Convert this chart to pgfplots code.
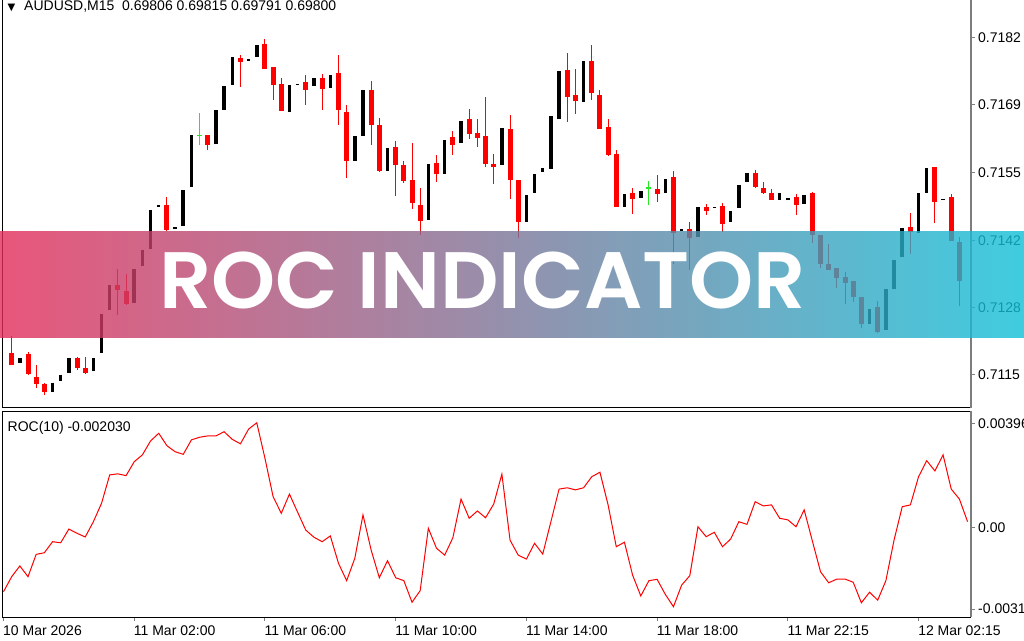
\documentclass[border=0pt]{standalone}
\usepackage{fontspec}
\setmainfont{Liberation Sans}
\IfFontExistsTF{Poppins SemiBold}{\newfontfamily\bannerfont{Poppins SemiBold}\def\bannerweight{}}{%
  \IfFontExistsTF{Poppins Medium}{\newfontfamily\bannerfont{Poppins Medium}\def\bannerweight{}}{%
    \newfontfamily\bannerfont{Poppins}\def\bannerweight{\bfseries}}}
\newfontfamily\symfont{DejaVu Sans}
\usepackage{pgfplots}
\pgfplotsset{compat=1.18}
\usepackage{pgfplotstable}
\definecolor{mtred}{RGB}{255,0,0}
\definecolor{mtgreen}{RGB}{40,230,40}
\definecolor{axgrey}{RGB}{125,125,125}
\definecolor{bannerL}{RGB}{228,44,90}
\definecolor{bannerR}{RGB}{16,192,216}
\newcommand\lblfont{\fontsize{14}{16}\selectfont}

\pgfplotstableread{
n o h l c
1 0.71191 0.71224 0.71166 0.71167
3 0.71187 0.71191 0.71146 0.71147
4 0.71143 0.71167 0.71119 0.71129
5 0.71128 0.71131 0.71107 0.71113
9 0.71181 0.71183 0.71157 0.71161
10 0.71161 0.71183 0.71148 0.71150
14 0.71326 0.71359 0.71266 0.71316
15 0.71316 0.71347 0.71286 0.71289
20 0.71487 0.71503 0.71434 0.71438
25 0.71627 0.71627 0.71596 0.71607
29 0.71781 0.71786 0.71723 0.71772
32 0.71809 0.71819 0.71758 0.71758
33 0.71762 0.71762 0.71696 0.71727
34 0.71729 0.71741 0.71674 0.71674
37 0.71733 0.71748 0.71687 0.71717
39 0.71741 0.71749 0.71676 0.71719
41 0.71749 0.71786 0.71646 0.71675
42 0.71674 0.71686 0.71541 0.71575
45 0.71716 0.71734 0.71607 0.71646
46 0.71647 0.71661 0.71554 0.71554
48 0.71602 0.71616 0.71505 0.71566
49 0.71566 0.71575 0.71531 0.71535
50 0.71535 0.71611 0.71479 0.71489
51 0.71488 0.71520 0.71426 0.71456
53 0.71571 0.71586 0.71533 0.71548
55 0.71621 0.71634 0.71585 0.71605
57 0.71658 0.71679 0.71619 0.71629
58 0.71631 0.71658 0.71603 0.71621
59 0.71625 0.71703 0.71563 0.71568
60 0.71569 0.71589 0.71529 0.71563
62 0.71639 0.71667 0.71499 0.71536
63 0.71535 0.71535 0.71420 0.71452
69 0.71756 0.71789 0.71651 0.71703
70 0.71706 0.71758 0.71668 0.71693
72 0.71776 0.71807 0.71697 0.71711
73 0.71706 0.71717 0.71638 0.71639
74 0.71643 0.71658 0.71584 0.71588
75 0.71588 0.71595 0.71481 0.71482
77 0.71512 0.71520 0.71469 0.71499
80 0.71518 0.71545 0.71491 0.71509
82 0.71543 0.71555 0.71370 0.71430
84 0.71438 0.71451 0.71356 0.71420
86 0.71483 0.71489 0.71466 0.71476
88 0.71486 0.71489 0.71431 0.71449
92 0.71551 0.71556 0.71521 0.71523
93 0.71521 0.71531 0.71508 0.71511
94 0.71511 0.71519 0.71496 0.71497
97 0.71501 0.71509 0.71467 0.71486
99 0.71511 0.71511 0.71409 0.71426
100 0.71426 0.71426 0.71361 0.71369
101 0.71369 0.71409 0.71357 0.71358
102 0.71359 0.71360 0.71321 0.71339
103 0.71341 0.71353 0.71288 0.71329
104 0.71336 0.71336 0.71293 0.71303
105 0.71303 0.71303 0.71241 0.71250
107 0.71283 0.71294 0.71231 0.71233
111 0.71443 0.71469 0.71387 0.71434
114 0.71563 0.71563 0.71451 0.71493
116 0.71503 0.71509 0.71416 0.71416
117 0.71413 0.71423 0.71286 0.71334
}\bear

\pgfplotstableread{
n o c
2 0.71171 0.71181
6 0.71114 0.71131
7 0.71134 0.71147
8 0.71151 0.71181
11 0.71154 0.71181
12 0.71189 0.71267
13 0.71277 0.71326
16 0.71291 0.71359
17 0.71364 0.71396
18 0.71399 0.71477
19 0.71483 0.71486
21 0.71440 0.71443
22 0.71444 0.71516
23 0.71524 0.71627
26 0.71608 0.71676
27 0.71676 0.71725
28 0.71725 0.71781
30 0.71774 0.71779
31 0.71781 0.71805
35 0.71671 0.71725
36 0.71726 0.71729
38 0.71724 0.71741
40 0.71721 0.71747
43 0.71575 0.71625
44 0.71625 0.71716
47 0.71554 0.71601
52 0.71456 0.71569
54 0.71549 0.71618
56 0.71611 0.71655
61 0.71565 0.71639
64 0.71452 0.71506
65 0.71511 0.71549
66 0.71554 0.71561
67 0.71559 0.71664
68 0.71659 0.71754
71 0.71693 0.71774
76 0.71483 0.71508
78 0.71501 0.71516
81 0.71511 0.71538
83 0.71435 0.71438
85 0.71423 0.71484
87 0.71481 0.71484
89 0.71452 0.71475
90 0.71481 0.71526
91 0.71531 0.71549
95 0.71497 0.71511
96 0.71498 0.71501
98 0.71489 0.71506
106 0.71250 0.71279
108 0.71236 0.71319
109 0.71319 0.71377
110 0.71383 0.71441
112 0.71432 0.71511
113 0.71511 0.71561
115 0.71496 0.71499
}\bull

\pgfplotstableread{
n o h l c
24 0.71624 0.71671 0.71608 0.71627
79 0.71518 0.71533 0.71485 0.71521
}\doji

\pgfplotstableread{
n v
0 -0.00244
1 -0.00187
2 -0.00146
3 -0.00187
4 -0.00102
5 -0.00096
6 -0.00054
7 -0.00058
8 -0.00006
9 -0.00022
10 -0.00036
11 0.00022
12 0.00092
13 0.00200
14 0.00204
15 0.00197
16 0.00250
17 0.00276
18 0.00329
19 0.00358
20 0.00311
21 0.00288
22 0.00278
23 0.00333
24 0.00343
25 0.00348
26 0.00348
27 0.00364
28 0.00335
29 0.00318
30 0.00374
31 0.00398
32 0.00263
33 0.00117
34 0.00054
35 0.00127
36 0.00058
37 -0.00010
38 -0.00037
39 -0.00054
40 -0.00032
41 -0.00136
42 -0.00202
43 -0.00117
44 0.00048
45 -0.00086
46 -0.00191
47 -0.00126
48 -0.00191
49 -0.00202
50 -0.00284
51 -0.00240
52 -0.00003
53 -0.00079
54 -0.00105
55 -0.00039
56 0.00108
57 0.00035
58 0.00063
59 0.00037
60 0.00089
61 0.00203
62 -0.00048
63 -0.00105
64 -0.00120
65 -0.00060
66 -0.00101
67 0.00022
68 0.00146
69 0.00151
70 0.00143
71 0.00151
72 0.00193
73 0.00210
74 0.00086
75 -0.00073
76 -0.00056
77 -0.00181
78 -0.00260
79 -0.00202
80 -0.00197
81 -0.00254
82 -0.00301
83 -0.00219
84 -0.00183
85 0.00003
86 -0.00035
87 -0.00018
88 -0.00073
89 -0.00044
90 0.00022
91 0.00012
92 0.00098
93 0.00082
94 0.00086
95 0.00035
96 0.00029
97 0.00003
98 0.00067
99 -0.00051
100 -0.00168
101 -0.00210
102 -0.00196
103 -0.00196
104 -0.00208
105 -0.00286
106 -0.00246
107 -0.00276
108 -0.00202
109 -0.00048
110 0.00079
111 0.00086
112 0.00193
113 0.00254
114 0.00215
115 0.00276
116 0.00146
117 0.00108
118 0.00022
}\roc

\pgfplotsset{
  candle/.style 2 args={draw=none, mark=none, forget plot,
    error bars/.cd, y dir=both, y explicit, error mark=none,
    error bar style={line width=#2, draw=#1}},
}

\begin{document}
\begin{tikzpicture}[x=1pt,y=1pt]
\path[use as bounding box] (0,0) rectangle (1024,640);
\clip (0,0) rectangle (1024,640);
\fill[white] (0,0) rectangle (1024,640);

% ---------- price panel ----------
\begin{axis}[name=top,
  at={(2pt,232pt)}, anchor=south west, scale only axis,
  width=969pt, height=408pt,
  xmin=-0.184, xmax=118.42, ymin=0.71080, ymax=0.71896,
  axis line style={draw=none},
  xtick=\empty, scaled y ticks=false,
  ytick={0.71820,0.71686,0.71550,0.71414,0.71280,0.71146},
  yticklabels={0.7182,0.7169,0.7155,0.7142,0.7128,0.7115},
  ytick pos=right, yticklabel pos=right,
  tick align=outside, major tick length=4pt,
  tick style={axgrey, line width=1pt},
  yticklabel style={font=\lblfont, anchor=west, inner sep=0pt, xshift=3pt, text=black},
]
\addplot[candle={mtred}{1pt}] table[x=n, y expr={(\thisrow{h}+\thisrow{l})/2}, y error expr={(\thisrow{h}-\thisrow{l})/2}] {\bear};
\addplot[candle={mtred}{5pt}] table[x=n, y expr={(\thisrow{o}+\thisrow{c})/2}, y error expr={abs(\thisrow{o}-\thisrow{c})/2}] {\bear};
\addplot[candle={black}{3.5pt}] table[x=n, y expr={(\thisrow{o}+\thisrow{c})/2}, y error expr={abs(\thisrow{o}-\thisrow{c})/2}] {\bull};
\addplot[candle={mtgreen}{1pt}] table[x=n, y expr={(\thisrow{h}+\thisrow{l})/2}, y error expr={(\thisrow{h}-\thisrow{l})/2}] {\doji};
\addplot[candle={mtgreen}{5pt}] table[x=n, y expr={(\thisrow{o}+\thisrow{c})/2}, y error expr={abs(\thisrow{o}-\thisrow{c})/2}] {\doji};
\end{axis}
\draw[black, line width=1pt] (top.north west) -- (top.south west) -- (top.south east);
\draw[axgrey, line width=1.5pt] (top.south east) -- (top.north east);

% ---------- ROC panel ----------
\begin{axis}[name=low,
  at={(2pt,23pt)}, anchor=south west, scale only axis,
  width=969pt, height=206pt,
  xmin=-0.184, xmax=118.42, ymin=-0.003401, ymax=0.004427,
  axis line style={draw=none},
  scaled y ticks=false,
  ytick={0.00396,0,-0.0031},
  yticklabels={0.00396,0.00,-0.0031},
  ytick pos=right, yticklabel pos=right,
  xtick={0,16,32,48,64,80,96,112},
  xticklabels={10 Mar 2026,11 Mar 02:00,11 Mar 06:00,11 Mar 10:00,11 Mar 14:00,11 Mar 18:00,11 Mar 22:15,12 Mar 02:15},
  xtick pos=bottom,
  tick align=outside, major tick length=4pt,
  tick style={axgrey, line width=1pt},
  yticklabel style={font=\lblfont, anchor=west, inner sep=0pt, xshift=3pt, text=black},
  xticklabel style={font=\lblfont, anchor=north west, inner sep=0pt, xshift=-0.5pt, yshift=-5pt, text=black},
]
\addplot[mtred, line width=1pt, mark=none] table[x=n, y=v] {\roc};
\end{axis}
\draw[black, line width=1pt] (low.north east) -- (low.north west) -- (low.south west) -- (low.south east);
\draw[axgrey, line width=1.5pt] (low.south east) -- (low.north east);

% ---------- texts ----------
\node[anchor=base, inner sep=0pt, font=\symfont\fontsize{10}{10}\selectfont] at (11.5,629) {▼};
\node[anchor=base west, inner sep=0pt, font=\lblfont] at (24,629) {AUDUSD,M15\ \ 0.69806 0.69815 0.69791 0.69800};
\node[anchor=base west, inner sep=0pt, font=\lblfont] at (7.5,209) {ROC(10) -0.002030};

% ---------- banner (solid translucent strips) ----------
\foreach \i in {0,...,127}{%
  \pgfmathsetmacro{\p}{(\i+0.5)*100/128}%
  \fill[bannerR!\p!bannerL, fill opacity=0.8] (8*\i,302) rectangle (8*\i+8,409);
}
\node[anchor=base, inner sep=0pt, text=white, font=\bannerfont\bannerweight\fontsize{80}{80}\selectfont] at (482.7,331.5) {\scalebox{1.02}[1]{ROC INDICATOR}};
\end{tikzpicture}
\end{document}
